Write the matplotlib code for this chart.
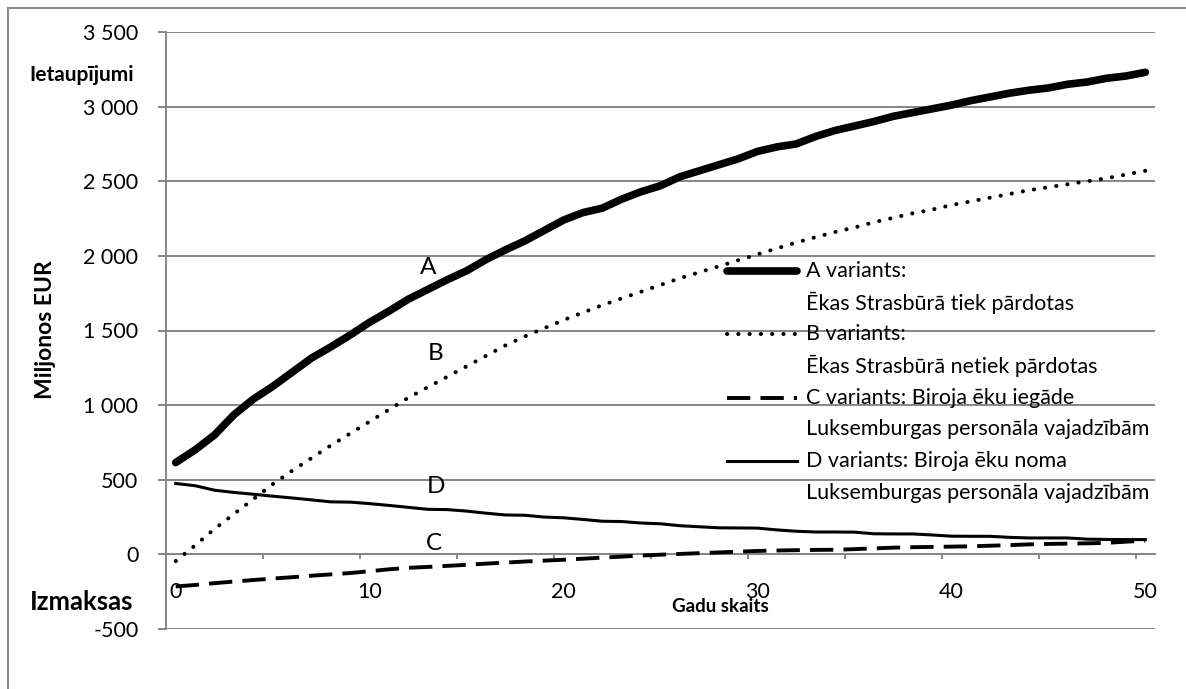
"""Savings vs costs of the four building options over 50 years (millions EUR)."""
import matplotlib
matplotlib.use("Agg")
import matplotlib.pyplot as plt
from matplotlib.lines import Line2D
from matplotlib.patches import Rectangle

plt.rcParams["font.family"] = ["Lato", "DejaVu Sans"]

W, H = 1186, 689
GRID = "#868686"

years = list(range(51))

variant_a = [615, 700, 800, 935, 1040, 1125, 1220, 1315, 1390, 1470,
             1555, 1630, 1710, 1775, 1840, 1900, 1975, 2040, 2100, 2170,
             2240, 2290, 2320, 2380, 2430, 2470, 2530, 2570, 2610, 2650,
             2700, 2730, 2750, 2800, 2840, 2870, 2900, 2935, 2960, 2985,
             3010, 3040, 3065, 3090, 3110, 3125, 3150, 3165, 3190, 3205, 3230]
variant_b = [-45, 60, 170, 270, 370, 470, 560, 645, 730, 810,
             890, 970, 1050, 1120, 1190, 1260, 1330, 1400, 1460, 1515,
             1570, 1620, 1670, 1715, 1760, 1805, 1850, 1890, 1930, 1970,
             2010, 2050, 2090, 2125, 2160, 2190, 2225, 2255, 2285, 2310,
             2340, 2365, 2390, 2415, 2440, 2460, 2480, 2500, 2520, 2545, 2570]
variant_c = [-215, -205, -193, -182, -172, -162, -153, -143, -134, -125,
             -113, -100, -90, -84, -77, -70, -62, -55, -48, -42,
             -36, -29, -22, -15, -8, -2, 3, 8, 13, 18,
             23, 26, 28, 30, 31, 35, 40, 45, 48, 50,
             52, 54, 58, 62, 67, 70, 72, 74, 77, 85, 92]
variant_d = [475, 460, 430, 415, 403, 390, 378, 365, 352, 350,
             340, 328, 315, 302, 300, 290, 276, 264, 262, 250,
             245, 234, 222, 220, 210, 205, 192, 185, 178, 177,
             176, 164, 155, 150, 150, 149, 138, 137, 137, 130,
             122, 121, 121, 114, 110, 110, 110, 102, 100, 99, 99]

legend_lines = [
    ("A variants:", "Ēkas Strasbūrā tiek pārdotas"),
    ("B variants:", "Ēkas Strasbūrā netiek pārdotas"),
    ("C variants: Biroja ēku iegāde", "Luksemburgas personāla vajadzībām"),
    ("D variants: Biroja ēku noma", "Luksemburgas personāla vajadzībām"),
]
curve_tags = ["A", "B", "C", "D"]
tag_pos = [(13.0, 1920), (13.4, 1345), (13.3, 70), (13.4, 455)]

yticks = list(range(-500, 3501, 500))
ytick_labels = ["-500", "0", "500", "1 000", "1 500", "2 000", "2 500", "3 000", "3 500"]
xlabels = [0, 10, 20, 30, 40, 50]

STYLES = [
    dict(color="black", lw=5.5, solid_capstyle="round", solid_joinstyle="round"),
    dict(color="black", lw=2.9, linestyle=(0, (0.05, 2.75)), dash_capstyle="round"),
    dict(color="black", lw=2.8, linestyle=(0, (6, 2.6))),
    dict(color="black", lw=2.2, solid_joinstyle="round"),
]


def fx(px):
    return px / W


def fy(py):
    return 1 - py / H


fig = plt.figure(figsize=(W / 100, H / 100), dpi=100)
ax = fig.add_axes([fx(166), fy(629), fx(1155) - fx(166), fy(32) - fy(629)])

for series, st in zip([variant_a, variant_b, variant_c, variant_d], STYLES):
    ax.plot(years, series, **st, zorder=3)

ax.set_xlim(-0.5, 50.5)
ax.set_ylim(-500, 3500)
ax.set_yticks(yticks)
ax.set_yticklabels(ytick_labels)
ax.yaxis.grid(True, color=GRID, lw=1.4)
ax.set_axisbelow(True)

# category axis: tick marks between categories every 5, labels every 10
ax.set_xticks([4.5 + 5 * i for i in range(10)])
ax.set_xticklabels([])
ax.set_xticks(xlabels, minor=True)
ax.set_xticklabels([str(v) for v in xlabels], minor=True)
ax.tick_params(axis="x", which="major", direction="out", length=3.6, width=1.4, color=GRID)
ax.tick_params(axis="x", which="minor", length=0, pad=20, labelsize=15.5)
ax.tick_params(axis="y", direction="out", length=5.8, width=1.4, color=GRID, pad=14, labelsize=15.5)

ax.spines["top"].set_visible(False)
ax.spines["right"].set_visible(False)
ax.spines["bottom"].set_position(("data", 0))
ax.spines["bottom"].set_color(GRID)
ax.spines["bottom"].set_linewidth(1.4)
ax.spines["left"].set_color(GRID)
ax.spines["left"].set_linewidth(1.4)

for tag, (tx, ty) in zip(curve_tags, tag_pos):
    ax.text(tx, ty, tag, fontsize=17.5, ha="center", va="center")

# legend drawn by hand so the key sits on the first line of each entry
row0, step = 271, 31.7
for i, ((l1, l2), st) in enumerate(zip(legend_lines, STYLES)):
    y1 = row0 + 2 * i * step
    fig.add_artist(Line2D([fx(727), fx(797)], [fy(y1), fy(y1)], transform=fig.transFigure, **st))
    fig.text(fx(806), fy(y1), l1, fontsize=15.5, va="center", ha="left")
    fig.text(fx(806), fy(y1 + step), l2, fontsize=15.5, va="center", ha="left")

fig.text(fx(82), fy(75), "Ietaupījumi", fontsize=15, fontweight="bold", ha="center", va="center")
fig.text(fx(82), fy(602), "Izmaksas", fontsize=18.5, fontweight="bold", ha="center", va="center")
fig.text(fx(45), fy(330), "Miljonos EUR", fontsize=16.5, fontweight="bold", rotation=90,
         ha="center", va="center")
fig.text(fx(720), fy(606), "Gadu skaits", fontsize=13.5, fontweight="bold", ha="center", va="center")

fig.add_artist(Rectangle((fx(8), fy(H + 10)), fx(W + 10) - fx(8), fy(8) - fy(H + 10),
                         transform=fig.transFigure, fill=False, edgecolor="#8c8c8c", lw=1.5))

fig.savefig("out.png", dpi=100)
